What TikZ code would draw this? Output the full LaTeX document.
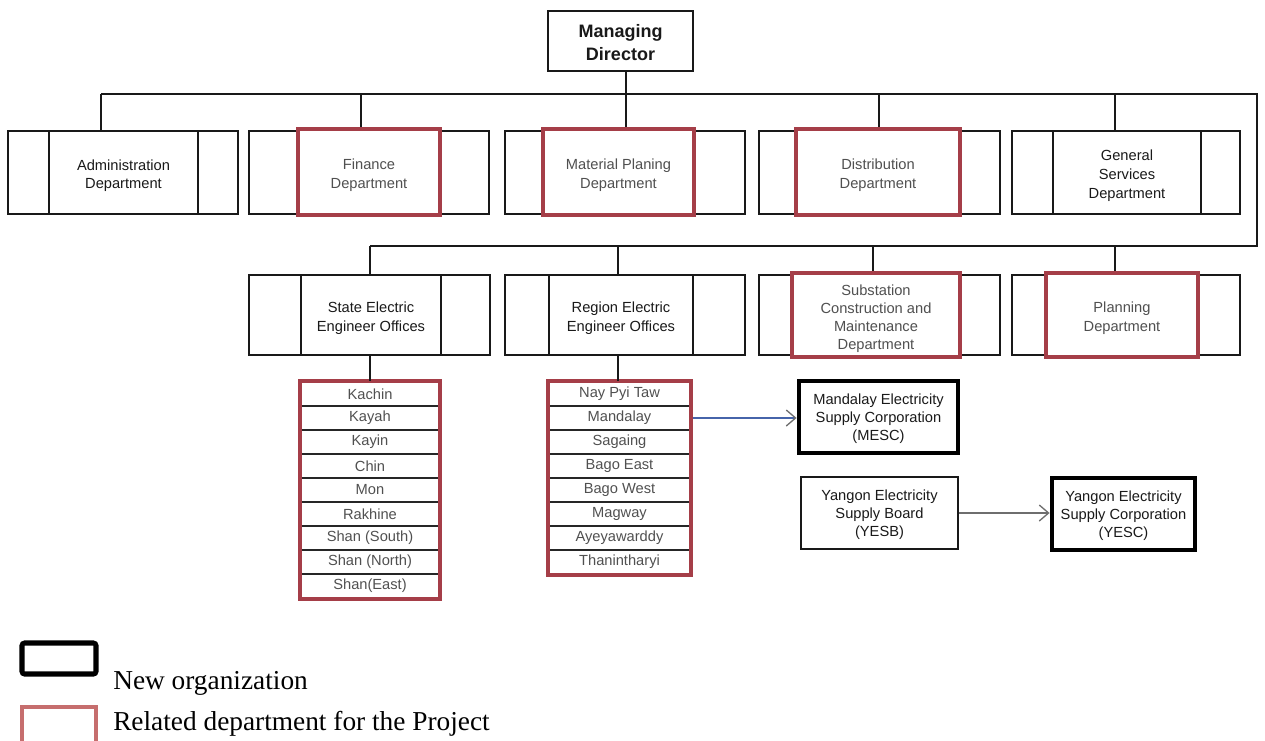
\documentclass[tikz,border=0pt]{standalone}
\usepackage{fontspec}
\setmainfont{Liberation Sans}
\newfontfamily\legendfont{Liberation Serif}
\usetikzlibrary{fit,arrows.meta}
\definecolor{relred}{RGB}{165,62,72}
\definecolor{legred}{RGB}{198,110,110}
\definecolor{txtgray}{RGB}{80,80,80}
\definecolor{txtblack}{RGB}{25,25,25}
\definecolor{arrblue}{RGB}{70,100,170}
\definecolor{arrgray}{RGB}{110,110,110}
\begin{document}
\begin{tikzpicture}[x=0.75pt,y=-0.75pt,
  conn/.style={draw=black!90, line width=1.1pt},
  obox/.style={draw=black!90, line width=1.5pt, inner sep=0pt},
  btxt/.style={align=center, inner sep=0pt, yshift=-2.5pt, font=\fontsize{11}{14}\selectfont, text=txtblack},
  gtxt/.style={btxt, text=txtgray},
  dept/.style={draw=black!90, line width=1.5pt, inner sep=0pt, label={[btxt]center:#1}},
  rel/.style={draw=relred, line width=3pt, inner sep=0pt, fill=white, label={[gtxt]center:#1}},
  cell/.style={draw=black!85, line width=1.1pt, inner sep=0pt,
    minimum height=18pt, font=\fontsize{11}{13}\selectfont, text=txtgray},
  relframe/.style={draw=relred, line width=3pt, inner sep=0pt},
  ntxt/.style={align=center, inner sep=0pt, yshift=-1.5pt, font=\fontsize{11}{13.5}\selectfont, text=txtblack},
  newbox/.style={draw=black, line width=3.6pt, inner sep=0pt, label={[ntxt]center:#1}},
  plainbox/.style={draw=black!90, line width=1.3pt, inner sep=0pt, label={[ntxt]center:#1}},
  arr/.style={line width=1pt, -{Straight Barb[length=7pt,width=12pt,color=arrgray]}},
  legtext/.style={anchor=base west, inner sep=0pt, font=\legendfont\fontsize{20.5}{24}\selectfont}
]
\useasboundingbox (0,0) rectangle (1265,740);

% Managing Director
\node[draw=black!90, line width=1.5pt, inner sep=0pt, fit={(548,11) (693,71)},
  label={[btxt, yshift=1.5pt, font=\bfseries\fontsize{13.5}{17}\selectfont]center:{Managing\\Director}}] (md) {};

% top row
\node[obox, fit={(8,131) (238,214)}] (adm-o) {};
\node[dept={Administration\\Department}, fit={(49,131) (198,214)}] (adm) {};
\node[obox, fit={(249,131) (489,214)}] (fin-o) {};
\node[rel={Finance\\Department}, fit={(298,129) (440,215)}] (fin) {};
\node[obox, fit={(505,131) (745,214)}] (mat-o) {};
\node[rel={Material Planing\\Department}, fit={(543,129) (694,215)}] (mat) {};
\node[obox, fit={(759,131) (1000,214)}] (dis-o) {};
\node[rel={Distribution\\Department}, fit={(796,129) (960,215)}] (dis) {};
\node[obox, fit={(1012,131) (1240,214)}] (gen-o) {};
\node[dept={General\\Services\\Department}, fit={(1053,131) (1201,214)}] (gen) {};

% second row
\node[obox, fit={(249,275) (490,355)}] (st-o) {};
\node[dept={State Electric\\Engineer Offices}, fit={(301,275) (441,355)}] (st) {};
\node[obox, fit={(505,275) (745,355)}] (rg-o) {};
\node[dept={Region Electric\\Engineer Offices}, fit={(549,275) (693,355)}] (rg) {};
\node[obox, fit={(759,275) (1000,355)}] (sub-o) {};
\node[draw=relred, line width=3pt, inner sep=0pt, fill=white, fit={(792,273) (960,357)},
  label={[gtxt, font=\fontsize{11}{13.5}\selectfont]center:{Substation\\Construction and\\Maintenance\\Department}}] (sub) {};
\node[obox, fit={(1012,275) (1240,355)}] (pl-o) {};
\node[rel={Planning\\Department}, fit={(1046,273) (1198,357)}] (pl) {};

% connectors
\coordinate (b1) at (101,94);
\coordinate (b2) at (1257,94);
\coordinate (b3) at (1257,246);
\coordinate (b4) at (370,246);
\coordinate (jf) at (361,94);
\coordinate (jm) at (626,94);
\coordinate (jd) at (879,94);
\coordinate (jg) at (1115,94);
\coordinate (jr) at (618,246);
\coordinate (js) at (873,246);
\coordinate (jp) at (1115,246);
\draw[conn] (b1) -- (b2) -- (b3) -- (b4);
\draw[conn] (md.south -| jm) -- (mat.north -| jm);
\draw[conn] (b1) -- (b1 |- adm.north);
\draw[conn] (jf) -- (jf |- fin.north);
\draw[conn] (jd) -- (jd |- dis.north);
\draw[conn] (jg) -- (jg |- gen.north);
\draw[conn] (b4) -- (b4 |- st.north);
\draw[conn] (jr) -- (jr |- rg.north);
\draw[conn] (js) -- (js |- sub.north);
\draw[conn] (jp) -- (jp |- pl.north);

% state list
\foreach \t [count=\i from 0] in {Kachin,Kayah,Kayin,Chin,Mon,Rakhine,Shan (South),Shan (North),Shan(East)}{
  \node[cell, minimum width=103.5pt] (s\i) at (370,394+24*\i) {\t};
}
\node[relframe, fit=(s0) (s8)] (slist) {};
% region list
\foreach \t [count=\i from 0] in {Nay Pyi Taw,Mandalay,Sagaing,Bago East,Bago West,Magway,Ayeyawarddy,Thanintharyi}{
  \node[cell, minimum width=105.75pt] (r\i) at (619.5,394+24*\i) {\t};
}
\node[relframe, fit=(r0) (r7)] (rlist) {};
\draw[conn] (st.south -| s0.north) -- (s0.north);
\draw[conn] (rg.south -| jr) -- (r0.north -| jr);

% new organizations
\node[newbox={Mandalay Electricity\\Supply Corporation\\(MESC)}, fit={(799,381) (958,453)}] (mesc) {};
\node[plainbox={Yangon Electricity\\Supply Board\\(YESB)}, fit={(801,477) (958,549)}] (yesb) {};
\node[newbox={Yangon Electricity\\Supply Corporation\\(YESC)}, fit={(1052,478) (1195,550)}] (yesc) {};
\draw[arr, draw=arrblue] (rlist.east |- r1) -- (mesc.west |- r1);
\draw[arr, draw=arrgray] (yesb.east) -- (yesc.west |- yesb.east);

% legend
\node[draw=black, line width=3.8pt, rounded corners=2pt, fit={(22,643) (96,674)}, inner sep=0pt] (leg1) {};
\node[legtext] (leg1t) at (113,689) {New organization};
\node[draw=legred, line width=3.5pt, fit={(22,707) (96,748)}, inner sep=0pt] (leg2) {};
\node[legtext] (leg2t) at (113,730) {Related department for the Project};
\end{tikzpicture}
\end{document}
